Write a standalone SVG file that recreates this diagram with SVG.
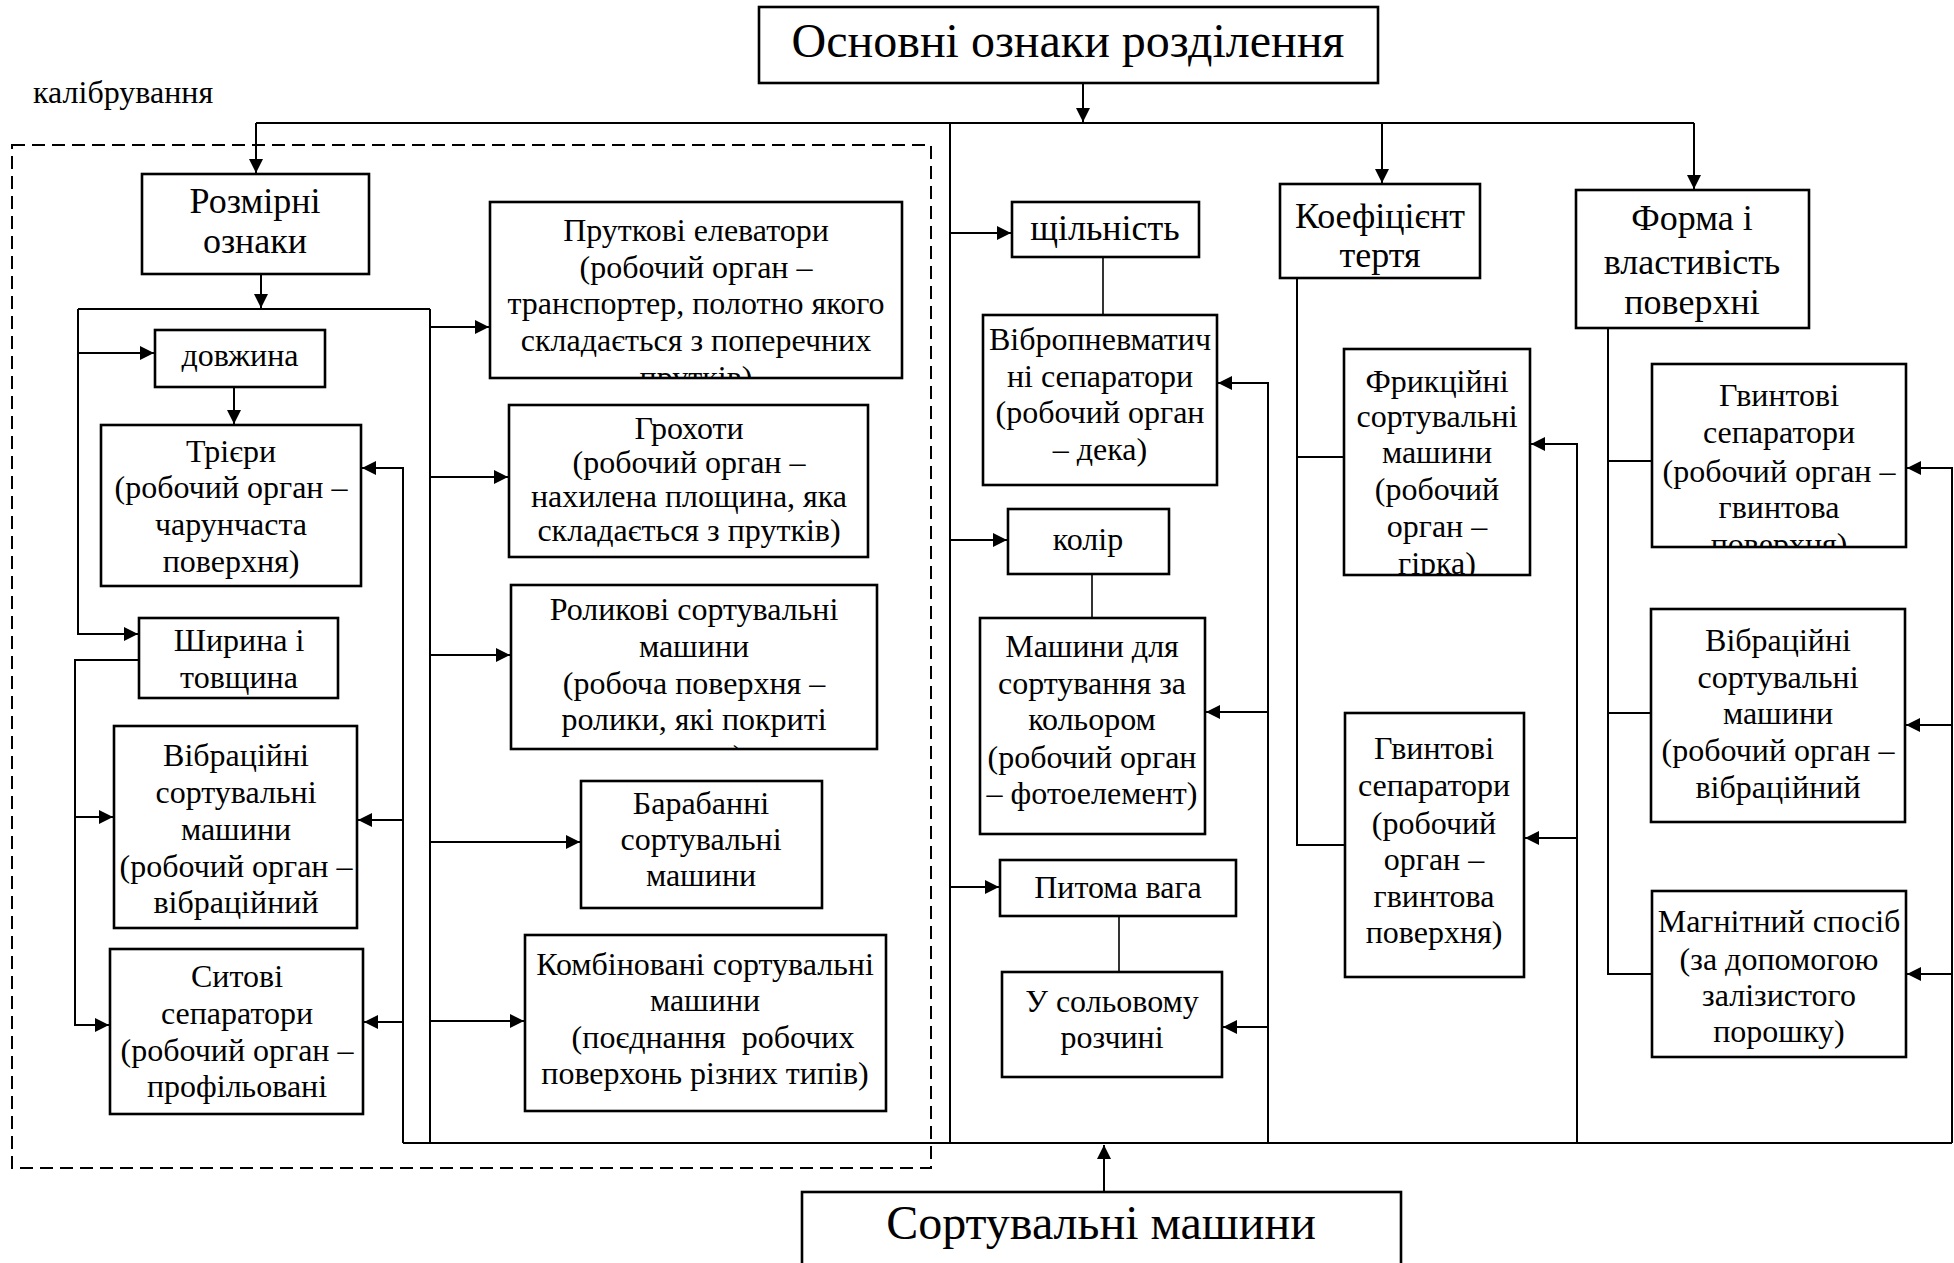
<svg xmlns="http://www.w3.org/2000/svg" width="1954" height="1263" viewBox="0 0 1954 1263">
<style>
.box{fill:#fff;stroke:#000;stroke-width:2.6}
.c{fill:none;stroke:#000;stroke-width:2}
.thin{fill:none;stroke:#000;stroke-width:1.6}
.a{marker-end:url(#arr)}
text{font-family:"Liberation Serif","Times New Roman",serif;fill:#000;text-anchor:middle}
.t{font-size:32px}
.h{font-size:36px}
.big{font-size:48px}
.pre{white-space:pre}
</style>
<defs>
<marker id="arr" viewBox="0 0 10 10" refX="10" refY="5" markerUnits="userSpaceOnUse" markerWidth="15" markerHeight="14" orient="auto">
<path d="M0,0 L10,5 L0,10 z" fill="#000"/>
</marker>
<clipPath id="cp-prut"><rect x="490" y="202" width="412" height="176"/></clipPath>
<clipPath id="cp-rol"><rect x="511" y="585" width="366" height="164"/></clipPath>
<clipPath id="cp-vibl"><rect x="114" y="726" width="243" height="202"/></clipPath>
<clipPath id="cp-sit"><rect x="110" y="949" width="253" height="165"/></clipPath>
<clipPath id="cp-fr"><rect x="1344" y="349" width="186" height="226"/></clipPath>
<clipPath id="cp-gvr"><rect x="1652" y="364" width="254" height="183"/></clipPath>
<clipPath id="cp-vibr"><rect x="1651" y="609" width="254" height="213"/></clipPath>
</defs>

<rect x="12" y="145" width="919" height="1023" fill="none" stroke="#000" stroke-width="2" stroke-dasharray="13,7"/>
<text class="t" x="33" y="103" style="text-anchor:start">калібрування</text>

<g id="connectors">
<path class="c a" d="M1083,83 V122"/>
<path class="c" d="M256,123 H1694"/>
<path class="c a" d="M256,123 V173"/>
<path class="c a" d="M1382,123 V183"/>
<path class="c a" d="M1694,123 V189"/>
<path class="c" d="M950,123 V1143"/>
<path class="c a" d="M950,233 H1011"/>
<path class="c a" d="M950,540 H1007"/>
<path class="c a" d="M950,887 H999"/>
<path class="thin" d="M1103,257 V315"/>
<path class="thin" d="M1092,574 V618"/>
<path class="thin" d="M1119,916 V972"/>
<path class="c a" d="M1268,1143 V383 H1218"/>
<path class="c a" d="M1268,712 H1206"/>
<path class="c a" d="M1268,1027 H1223"/>
<path class="c" d="M1297,278 V845 H1345"/>
<path class="c" d="M1297,457 H1344"/>
<path class="c a" d="M1577,1143 V444 H1531"/>
<path class="c a" d="M1577,838 H1525"/>
<path class="c" d="M1608,328 V974 H1652"/>
<path class="c" d="M1608,461 H1652"/>
<path class="c" d="M1608,713 H1651"/>
<path class="c a" d="M1952,1143 V468 H1907"/>
<path class="c a" d="M1952,725 H1906"/>
<path class="c a" d="M1952,974 H1907"/>
<path class="c" d="M403,1143 H1952"/>
<path class="c a" d="M1104,1192 V1145"/>
<path class="c a" d="M261,274 V308"/>
<path class="c" d="M78,309 H430"/>
<path class="c a" d="M78,309 V634 H138"/>
<path class="c a" d="M78,353 H154"/>
<path class="c a" d="M234,387 V424"/>
<path class="c a" d="M139,660 H75 V1025 H109"/>
<path class="c a" d="M75,817 H113"/>
<path class="c" d="M430,309 V1143"/>
<path class="c a" d="M430,327 H489"/>
<path class="c a" d="M430,477 H508"/>
<path class="c a" d="M430,655 H510"/>
<path class="c a" d="M430,842 H580"/>
<path class="c a" d="M430,1021 H524"/>
<path class="c a" d="M403,1143 V468 H362"/>
<path class="c a" d="M403,820 H358"/>
<path class="c a" d="M403,1022 H364"/>
</g>

<g id="n-title">
<rect class="box" x="759" y="7" width="619" height="76"/>
<text class="big" x="1068" y="57">Основні ознаки розділення</text>
</g>

<g id="n-rozm">
<rect class="box" x="142" y="174" width="227" height="100"/>
<text class="h" x="255" y="213">Розмірні</text>
<text class="h" x="255" y="253">ознаки</text>
</g>

<g id="n-dovzh">
<rect class="box" x="155" y="330" width="170" height="57"/>
<text class="t" x="240" y="366">довжина</text>
</g>

<g id="n-trier">
<rect class="box" x="101" y="425" width="260" height="161"/>
<text class="t" x="231" y="462">Трієри</text>
<text class="t" x="231" y="498">(робочий орган –</text>
<text class="t" x="231" y="535">чарунчаста</text>
<text class="t" x="231" y="572">поверхня)</text>
</g>

<g id="n-shyr">
<rect class="box" x="139" y="618" width="199" height="80"/>
<text class="t" x="239" y="651">Ширина і</text>
<text class="t" x="239" y="688">товщина</text>
</g>

<g id="n-vibl">
<rect class="box" x="114" y="726" width="243" height="202"/>
<g clip-path="url(#cp-vibl)">
<text class="t" x="236" y="766">Вібраційні</text>
<text class="t" x="236" y="803">сортувальні</text>
<text class="t" x="236" y="840">машини</text>
<text class="t" x="236" y="877">(робочий орган –</text>
<text class="t" x="236" y="913">вібраційний</text>
</g>
</g>

<g id="n-sit">
<rect class="box" x="110" y="949" width="253" height="165"/>
<g clip-path="url(#cp-sit)">
<text class="t" x="237" y="987">Ситові</text>
<text class="t" x="237" y="1024">сепаратори</text>
<text class="t" x="237" y="1061">(робочий орган –</text>
<text class="t" x="237" y="1097">профільовані</text>
</g>
</g>

<g id="n-prut">
<rect class="box" x="490" y="202" width="412" height="176"/>
<g clip-path="url(#cp-prut)">
<text class="t" x="696" y="241">Пруткові елеватори</text>
<text class="t" x="696" y="278">(робочий орган –</text>
<text class="t" x="696" y="314">транспортер, полотно якого</text>
<text class="t" x="696" y="351">складається з поперечних</text>
<text class="t" x="696" y="388">прутків)</text>
</g>
</g>

<g id="n-hrokh">
<rect class="box" x="509" y="405" width="359" height="152"/>
<text class="t" x="689" y="439">Грохоти</text>
<text class="t" x="689" y="473">(робочий орган –</text>
<text class="t" x="689" y="507">нахилена площина, яка</text>
<text class="t" x="689" y="541">складається з прутків)</text>
</g>

<g id="n-rol">
<rect class="box" x="511" y="585" width="366" height="164"/>
<g clip-path="url(#cp-rol)">
<text class="t" x="694" y="620">Роликові сортувальні</text>
<text class="t" x="694" y="657">машини</text>
<text class="t" x="694" y="694">(робоча поверхня –</text>
<text class="t" x="694" y="730">ролики, які покриті</text>
<text class="t" x="738" y="767">)</text>
</g>
</g>

<g id="n-baraban">
<rect class="box" x="581" y="781" width="241" height="127"/>
<text class="t" x="701" y="814">Барабанні</text>
<text class="t" x="701" y="850">сортувальні</text>
<text class="t" x="701" y="886">машини</text>
</g>

<g id="n-komb">
<rect class="box" x="525" y="935" width="361" height="176"/>
<text class="t" x="705" y="975">Комбіновані сортувальні</text>
<text class="t" x="705" y="1011">машини</text>
<text class="t pre" x="709" y="1048"> (поєднання  робочих</text>
<text class="t" x="705" y="1084">поверхонь різних типів)</text>
</g>

<g id="n-shchil">
<rect class="box" x="1012" y="202" width="187" height="55"/>
<text class="h" x="1105" y="240">щільність</text>
</g>

<g id="n-vibropn">
<rect class="box" x="983" y="315" width="234" height="170"/>
<text class="t" x="1100" y="350">Вібропневматич</text>
<text class="t" x="1100" y="387">ні сепаратори</text>
<text class="t" x="1100" y="423">(робочий орган</text>
<text class="t" x="1100" y="460">– дека)</text>
</g>

<g id="n-kolir">
<rect class="box" x="1008" y="509" width="161" height="65"/>
<text class="t" x="1088" y="550">колір</text>
</g>

<g id="n-kolmash">
<rect class="box" x="980" y="618" width="225" height="216"/>
<text class="t" x="1092" y="657">Машини для</text>
<text class="t" x="1092" y="694">сортування за</text>
<text class="t" x="1092" y="730">кольором</text>
<text class="t" x="1092" y="768">(робочий орган</text>
<text class="t" x="1092" y="804">– фотоелемент)</text>
</g>

<g id="n-pytoma">
<rect class="box" x="1000" y="860" width="236" height="56"/>
<text class="t" x="1118" y="898">Питома вага</text>
</g>

<g id="n-solovyi">
<rect class="box" x="1002" y="972" width="220" height="105"/>
<text class="t" x="1112" y="1012">У сольовому</text>
<text class="t" x="1112" y="1048">розчині</text>
</g>

<g id="n-koef">
<rect class="box" x="1280" y="184" width="200" height="94"/>
<text class="h" x="1380" y="228">Коефіцієнт</text>
<text class="h" x="1380" y="267">тертя</text>
</g>

<g id="n-fryk">
<rect class="box" x="1344" y="349" width="186" height="226"/>
<g clip-path="url(#cp-fr)">
<text class="t" x="1437" y="392">Фрикційні</text>
<text class="t" x="1437" y="427">сортувальні</text>
<text class="t" x="1437" y="463">машини</text>
<text class="t" x="1437" y="500">(робочий</text>
<text class="t" x="1437" y="537">орган –</text>
<text class="t" x="1437" y="574">гірка)</text>
</g>
</g>

<g id="n-gvmid">
<rect class="box" x="1345" y="713" width="179" height="264"/>
<text class="t" x="1434" y="759">Гвинтові</text>
<text class="t" x="1434" y="796">сепаратори</text>
<text class="t" x="1434" y="834">(робочий</text>
<text class="t" x="1434" y="870">орган –</text>
<text class="t" x="1434" y="907">гвинтова</text>
<text class="t" x="1434" y="943">поверхня)</text>
</g>

<g id="n-forma">
<rect class="box" x="1576" y="190" width="233" height="138"/>
<text class="h" x="1692" y="230">Форма і</text>
<text class="h" x="1692" y="274">властивість</text>
<text class="h" x="1692" y="314">поверхні</text>
</g>

<g id="n-gvr">
<rect class="box" x="1652" y="364" width="254" height="183"/>
<g clip-path="url(#cp-gvr)">
<text class="t" x="1779" y="406">Гвинтові</text>
<text class="t" x="1779" y="443">сепаратори</text>
<text class="t" x="1779" y="482">(робочий орган –</text>
<text class="t" x="1779" y="518">гвинтова</text>
<text class="t" x="1779" y="555">поверхня)</text>
</g>
</g>

<g id="n-vibr">
<rect class="box" x="1651" y="609" width="254" height="213"/>
<g clip-path="url(#cp-vibr)">
<text class="t" x="1778" y="651">Вібраційні</text>
<text class="t" x="1778" y="688">сортувальні</text>
<text class="t" x="1778" y="724">машини</text>
<text class="t" x="1778" y="761">(робочий орган –</text>
<text class="t" x="1778" y="798">вібраційний</text>
</g>
</g>

<g id="n-magn">
<rect class="box" x="1652" y="891" width="254" height="166"/>
<text class="t" x="1779" y="932">Магнітний спосіб</text>
<text class="t" x="1779" y="970">(за допомогою</text>
<text class="t" x="1779" y="1006">залізистого</text>
<text class="t" x="1779" y="1042">порошку)</text>
</g>

<g id="n-sort">
<rect class="box" x="802" y="1192" width="599" height="90"/>
<text class="big" x="1101" y="1239">Сортувальні машини</text>
</g>
</svg>
